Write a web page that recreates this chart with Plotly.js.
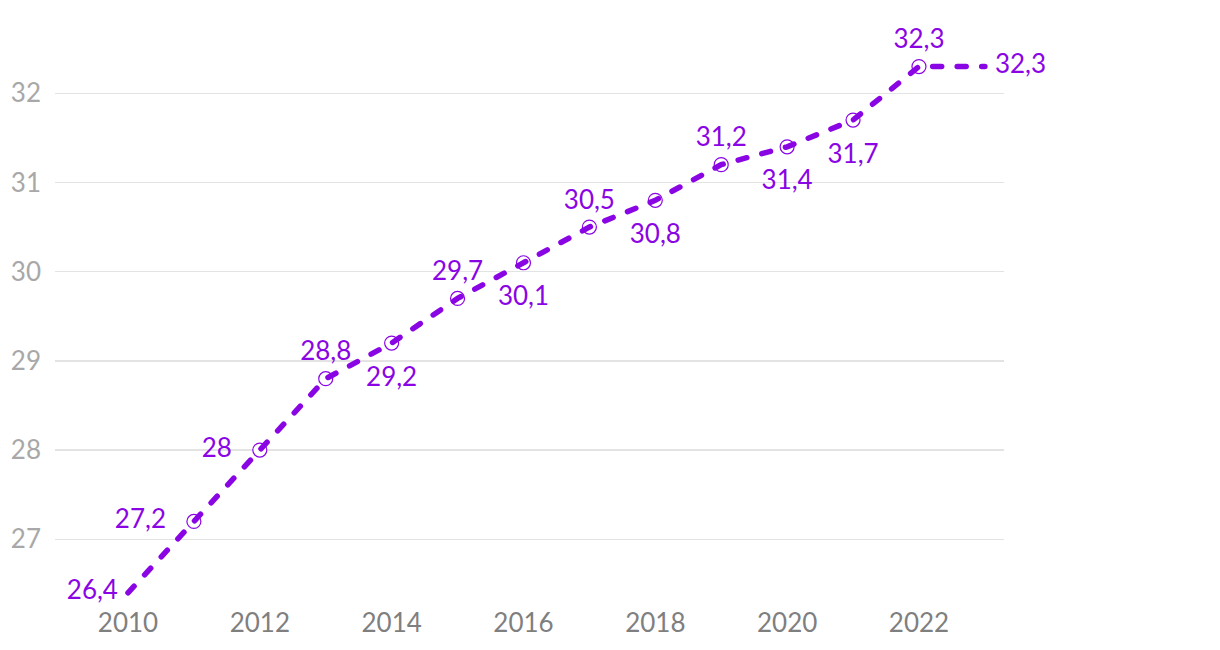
<!DOCTYPE html>
<html>
<head>
<meta charset="utf-8">
<script src="https://cdn.plot.ly/plotly-3.0.1.min.js"></script>
<style>
html,body{margin:0;padding:0;background:#fff;}
#chart{width:1220px;height:650px;}
.lineTrace .js-line{stroke-linecap:round;}
</style>
</head>
<body>
<div id="chart"></div>
<script>
const years = [2010,2011,2012,2013,2014,2015,2016,2017,2018,2019,2020,2021,2022,2023];
const values = [26.4,27.2,28,28.8,29.2,29.7,30.1,30.5,30.8,31.2,31.4,31.7,32.3,32.3];
const labels = ['26,4','27,2','28','28,8','29,2','29,7','30,1','30,5','30,8','31,2','31,4','31,7','32,3','32,3'];
const labelPos = ['middle left','middle left','middle left','top center','bottom center','top center','bottom center','top center','bottom center','top center','bottom center','bottom center','top center','middle right'];
// spacing (invisible marker size) that sets how far each label sits from its point
const labelGap = [14.4,43,43,17.6,35.2,17.6,35.2,17.6,35.2,17.6,35.2,35.2,17.6,14.4];
const markerYears = years.slice(1,13);
const markerValues = values.slice(1,13);
const xTicks = [2010,2012,2014,2016,2018,2020,2022];
const yTicks = [27,28,29,30,31,32];

const purple = '#8a05e4';

const traces = [
  {x: markerYears, y: markerValues, type:'scatter', mode:'markers',
   marker:{size:14, color:'#ffffff', line:{color:purple, width:1.2}},
   hoverinfo:'skip', showlegend:false},
  {x: years, y: values, type:'scatter', mode:'lines',
   line:{color:purple, width:5.5, dash:'9px,15.5px'},
   hoverinfo:'skip', showlegend:false},
  {x: years, y: values, type:'scatter', mode:'markers+text', cliponaxis:false,
   marker:{size:labelGap, opacity:0, color:purple},
   text: labels, textposition: labelPos,
   textfont:{family:'Lato', size:26, color:purple},
   hoverinfo:'skip', showlegend:false}
];

const layout = {
  width:1220, height:650,
  margin:{l:55, r:216, t:0, b:45},
  paper_bgcolor:'#ffffff', plot_bgcolor:'#ffffff',
  font:{family:'Lato'},
  xaxis:{range:[2008.893,2023.29], tickvals:xTicks, ticktext:xTicks.map(String),
         showgrid:false, zeroline:false, showline:false, ticks:'',
         tickfont:{family:'Lato', size:26, color:'#7f7f7f'}},
  yaxis:{range:[26.263,33.046], tickvals:yTicks, ticktext:yTicks.map(String),
         showgrid:true, gridcolor:'#e3e3e3', gridwidth:1.5, zeroline:false, showline:false, ticks:'',
         ticklabelstandoff:13,
         tickfont:{family:'Lato', size:26, color:'#a8a8a8'}},
  showlegend:false
};

Plotly.newPlot('chart', traces, layout, {staticPlot:true}).then(()=>{
  document.querySelectorAll('.scatterlayer .trace')[1].classList.add('lineTrace');
});
</script>
</body>
</html>
